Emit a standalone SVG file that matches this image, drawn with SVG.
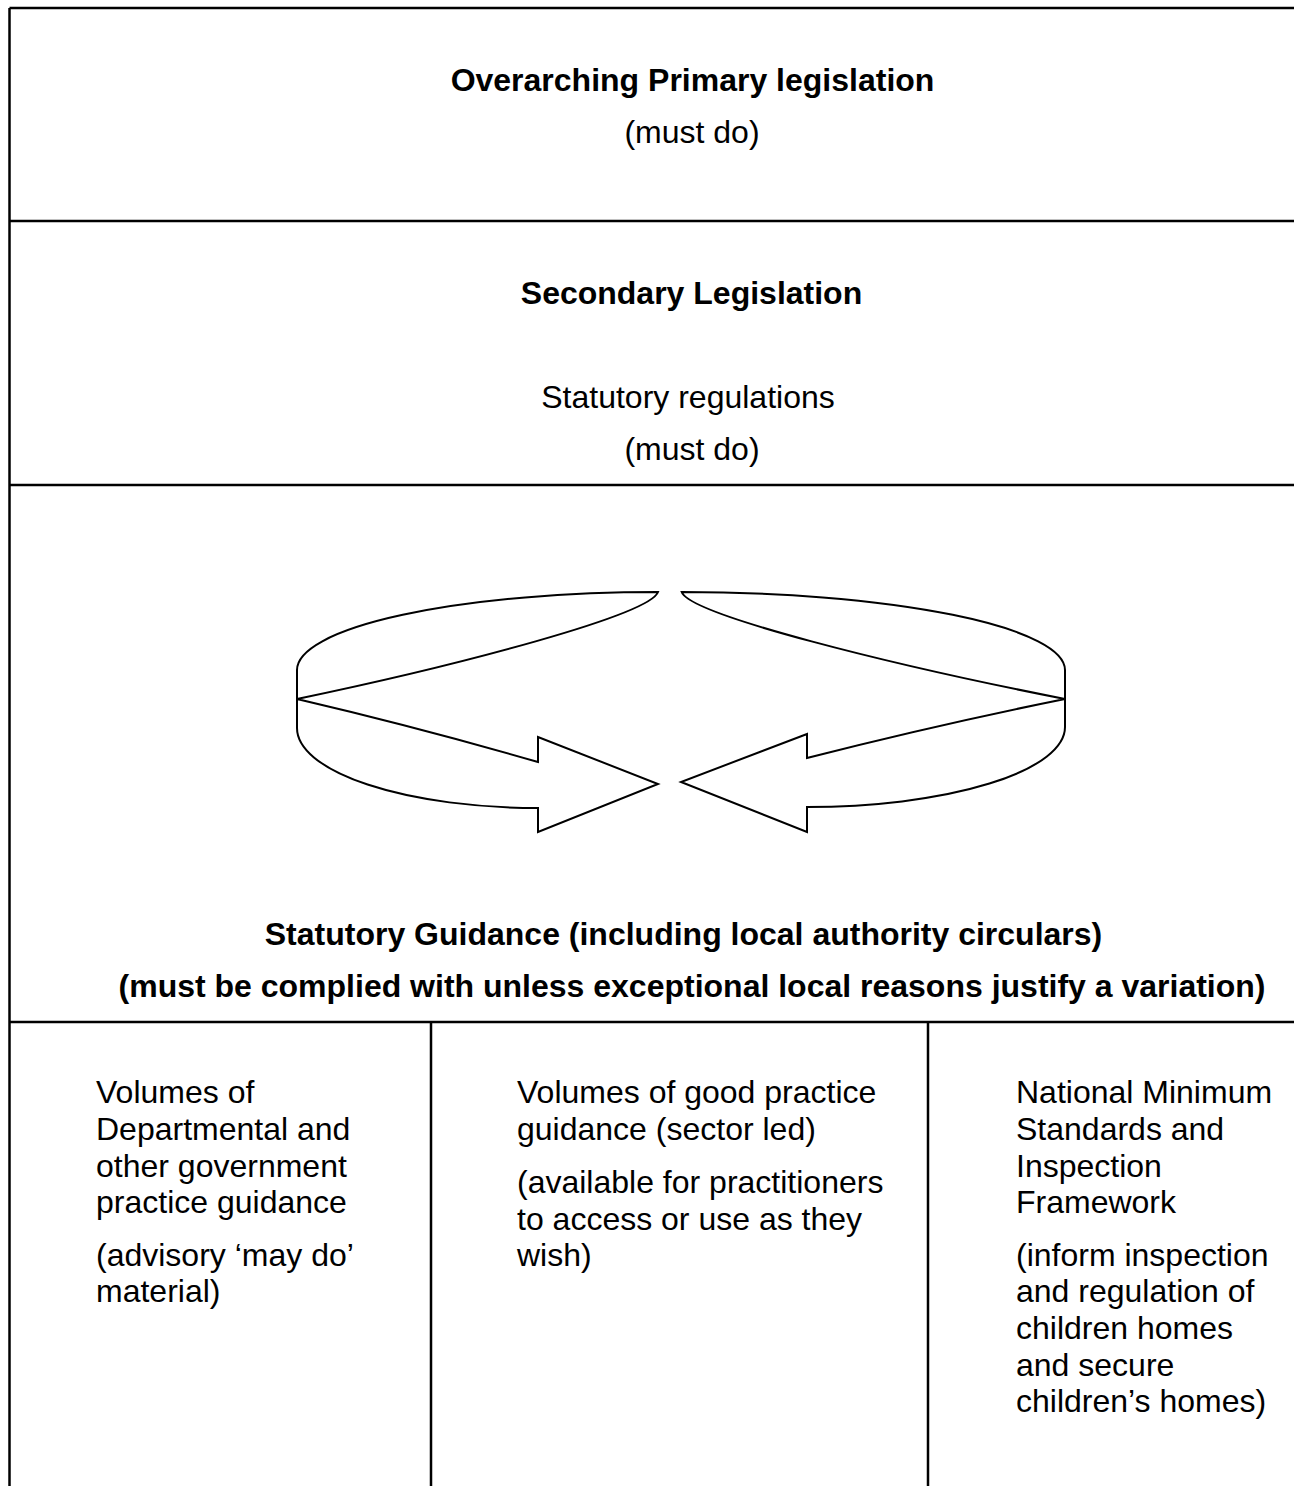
<svg xmlns="http://www.w3.org/2000/svg" width="1294" height="1486" viewBox="0 0 1294 1486">
<style>
.t{font-family:"Liberation Sans",Arial,sans-serif;font-size:32px;fill:#000}
.b{font-weight:bold}
.c{text-anchor:middle}
.ln{stroke:#000;stroke-width:2.5;fill:none}
.ar{stroke:#000;stroke-width:2;fill:#fff;stroke-linejoin:miter}
</style>
<rect x="0" y="0" width="1294" height="1486" fill="#fff"/>
<g id="grid">
<line class="ln" x1="9.5" y1="8" x2="1294" y2="8"/>
<line class="ln" x1="9.5" y1="8" x2="9.5" y2="1486"/>
<line class="ln" x1="9.5" y1="221" x2="1294" y2="221"/>
<line class="ln" x1="9.5" y1="485" x2="1294" y2="485"/>
<line class="ln" x1="9.5" y1="1022" x2="1294" y2="1022"/>
<line class="ln" x1="431" y1="1022" x2="431" y2="1486"/>
<line class="ln" x1="928" y1="1022" x2="928" y2="1486"/>
</g>
<g id="primary">
<text class="t b c" x="692.5" y="91">Overarching Primary legislation</text>
<text class="t c" x="692" y="143">(must do)</text>
</g>
<g id="secondary">
<text class="t b c" x="691.5" y="304">Secondary Legislation</text>
<text class="t c" x="688" y="408">Statutory regulations</text>
<text class="t c" x="692" y="460">(must do)</text>
</g>
<g id="statutory-guidance">
<text class="t b c" x="683.5" y="945">Statutory Guidance (including local authority circulars)</text>
<text class="t b c" x="692" y="997">(must be complied with unless exceptional local reasons justify a variation)</text>
</g>
<g id="connectors">
<path id="arrow-left" class="ar" d="M658,592 A361,78 0 0 0 297,670 L297,728 A241,80 0 0 0 538,808 L538,832 L658,784 L538,737 L538,762 Q417,727 297,699 C460,665 650,615 658,592 Z"/>
<path id="arrow-right" class="ar" d="M681.7,592 A383.3,78 0 0 1 1065,670 L1065,727 A258,80 0 0 1 807,807 L807,832 L681,782 L807,734 L807,758 Q936,725 1065,699 C892,665 690,615 681.7,592 Z"/>
</g>
<g id="col-departmental">
<text class="t" x="96" y="1103">Volumes of</text>
<text class="t" x="96" y="1140">Departmental and</text>
<text class="t" x="96" y="1176.5">other government</text>
<text class="t" x="96" y="1213">practice guidance</text>
<text class="t" x="96" y="1266">(advisory ‘may do’</text>
<text class="t" x="96" y="1302">material)</text>
</g>
<g id="col-good-practice">
<text class="t" x="517" y="1103">Volumes of good practice</text>
<text class="t" x="517" y="1140">guidance (sector led)</text>
<text class="t" x="517" y="1193">(available for practitioners</text>
<text class="t" x="517" y="1230">to access or use as they</text>
<text class="t" x="517" y="1266">wish)</text>
</g>
<g id="col-standards">
<text class="t" x="1016" y="1103">National Minimum</text>
<text class="t" x="1016" y="1140">Standards and</text>
<text class="t" x="1016" y="1176.5">Inspection</text>
<text class="t" x="1016" y="1213">Framework</text>
<text class="t" x="1016" y="1266">(inform inspection</text>
<text class="t" x="1016" y="1302">and regulation of</text>
<text class="t" x="1016" y="1339">children homes</text>
<text class="t" x="1016" y="1376">and secure</text>
<text class="t" x="1016" y="1412">children’s homes)</text>
</g>
</svg>
